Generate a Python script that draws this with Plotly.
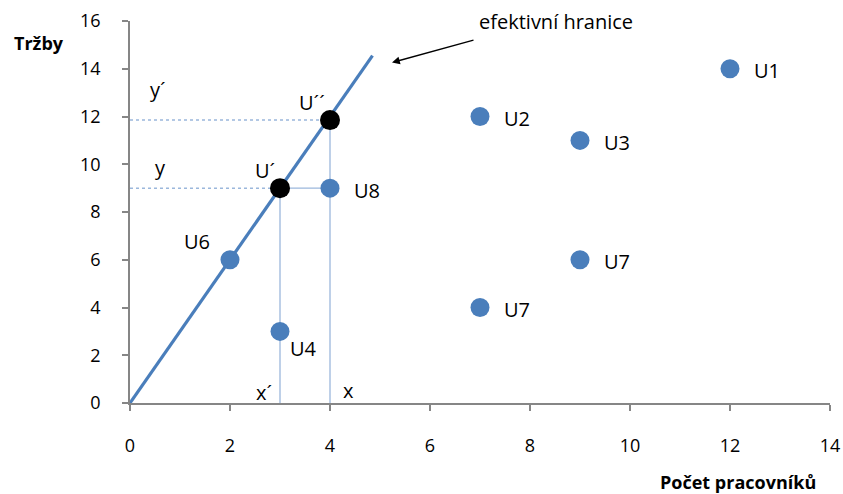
import plotly.graph_objects as go

# data
unit_names = ["U1", "U2", "U3", "U7", "U7", "U8", "U6", "U4"]
unit_x = [12, 7, 9, 9, 7, 4, 2, 3]
unit_y = [14, 12, 11, 6, 4, 9, 6, 3]
eff_names = ["U´", "U´´"]
eff_x = [3, 4]
eff_y = [9, 11.85]
frontier_x = [0, 4.85]
frontier_y = [0, 14.55]
x_ticks = [0, 2, 4, 6, 8, 10, 12, 14]
y_ticks = [0, 2, 4, 6, 8, 10, 12, 14, 16]

FONT = "Open Sans, Liberation Sans, sans-serif"
BLUE = "#4A7EBB"
LIGHT = "#9BB7DC"
LS = 20

fig = go.Figure()

fig.add_trace(go.Scatter(x=[0, eff_x[1]], y=[eff_y[1], eff_y[1]], mode="lines",
                         line=dict(color=LIGHT, width=1.5, dash="dot"), hoverinfo="skip"))
fig.add_trace(go.Scatter(x=[0, eff_x[0]], y=[eff_y[0], eff_y[0]], mode="lines",
                         line=dict(color=LIGHT, width=1.5, dash="dot"), hoverinfo="skip"))
fig.add_trace(go.Scatter(x=[eff_x[0], unit_x[5]], y=[eff_y[0], unit_y[5]], mode="lines",
                         line=dict(color=LIGHT, width=1.3), hoverinfo="skip"))
fig.add_trace(go.Scatter(x=[eff_x[0], eff_x[0]], y=[0, eff_y[0]], mode="lines",
                         line=dict(color=LIGHT, width=1.3), hoverinfo="skip"))
fig.add_trace(go.Scatter(x=[eff_x[1], eff_x[1]], y=[0, eff_y[1]], mode="lines",
                         line=dict(color=LIGHT, width=1.3), hoverinfo="skip"))

fig.add_trace(go.Scatter(x=frontier_x, y=frontier_y, mode="lines",
                         line=dict(color=BLUE, width=3.2), hoverinfo="skip"))

fig.add_trace(go.Scatter(x=unit_x, y=unit_y, mode="markers",
                         marker=dict(color=BLUE, size=19), hoverinfo="skip"))
fig.add_trace(go.Scatter(x=eff_x, y=eff_y, mode="markers",
                         marker=dict(color="black", size=20), hoverinfo="skip"))

def lab(x, y, text, anchor, xs, ys):
    fig.add_annotation(x=x, y=y, text=text, showarrow=False, xanchor=anchor,
                       xshift=xs, yshift=ys, font=dict(size=LS, family=FONT, color="black"))

for n, x, y in zip(unit_names, unit_x, unit_y):
    if n == "U6":
        lab(x, y, n, "right", -18, 18)
    elif n == "U4":
        lab(x, y, n, "left", 8, -17)
    else:
        lab(x, y, n, "left", 22, -2)

lab(eff_x[0], eff_y[0], "U´", "right", -3, 18)
lab(eff_x[1], eff_y[1], "U´´", "right", -3, 18)
lab(0, eff_y[1], "y´", "center", 28, 31)
lab(0, eff_y[0], "y", "center", 30, 21)
lab(eff_x[0], 0, "x´", "right", -6, 11)
lab(eff_x[1], 0, "x", "left", 11, 13)

fig.add_annotation(x=8.52, y=15.97, text="efektivní hranice", showarrow=False,
                   xanchor="center", font=dict(size=LS, family=FONT, color="black"))
fig.add_annotation(x=5.24, y=14.26, ax=6.9, ay=15.22, xref="x", yref="y", axref="x", ayref="y",
                   text="", showarrow=True, arrowhead=2, arrowsize=1.2, arrowwidth=1.3,
                   arrowcolor="black")

fig.add_annotation(xref="paper", yref="paper", x=-0.13, y=0.942, text="<b>Tržby</b>",
                   showarrow=False, xanchor="center", yanchor="middle",
                   font=dict(size=18, family=FONT, color="black"))
fig.add_annotation(xref="paper", yref="paper", x=0.869, y=-0.207, text="<b>Počet pracovníků</b>",
                   showarrow=False, xanchor="center", yanchor="middle",
                   font=dict(size=18, family=FONT, color="black"))

axis_common = dict(showgrid=False, zeroline=False, automargin=False,
                   showline=True, linecolor="#868686", linewidth=1.5,
                   ticks="outside", ticklen=6, tickcolor="#868686", tickwidth=1.5,
                   tickfont=dict(size=18, family=FONT, color="black"))

fig.update_layout(
    width=843, height=494,
    margin=dict(l=130, r=13, t=21, b=91),
    paper_bgcolor="white", plot_bgcolor="white",
    showlegend=False,
    xaxis=dict(range=[0, 14], tickvals=x_ticks, ticklabelstandoff=20, **axis_common),
    yaxis=dict(range=[0, 16], tickvals=y_ticks, ticklabelstandoff=18, **axis_common),
)

# remove the default page margin so the figure fills the window exactly
fig.write_html("out.html", config={"displayModeBar": False},
               post_script="document.body.style.margin='0';document.body.style.overflow='hidden';")
